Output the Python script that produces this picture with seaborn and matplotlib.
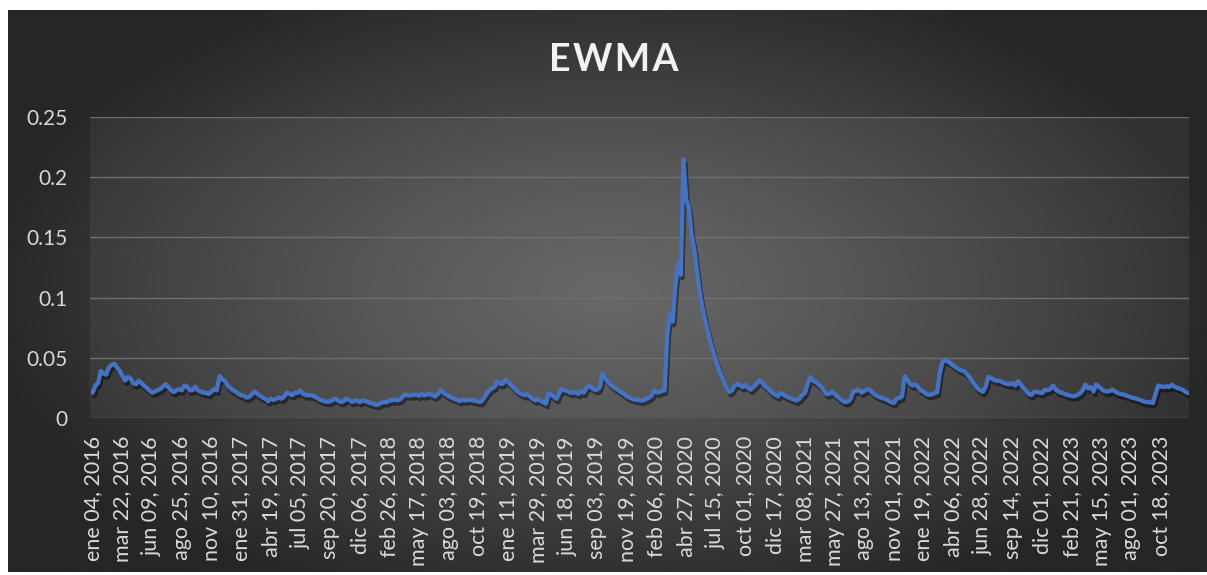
import numpy as np
import matplotlib
matplotlib.use("Agg")
import matplotlib.pyplot as plt
import matplotlib.patheffects as pe
import seaborn as sns

TITLE = "EWMA"

# Axis labels shown every 55 trading days
TICK_LABELS = [
    "ene 04, 2016", "mar 22, 2016", "jun 09, 2016", "ago 25, 2016", "nov 10, 2016",
    "ene 31, 2017", "abr 19, 2017", "jul 05, 2017", "sep 20, 2017", "dic 06, 2017",
    "feb 26, 2018", "may 17, 2018", "ago 03, 2018", "oct 19, 2018", "ene 11, 2019",
    "mar 29, 2019", "jun 18, 2019", "sep 03, 2019", "nov 19, 2019", "feb 06, 2020",
    "abr 27, 2020", "jul 15, 2020", "oct 01, 2020", "dic 17, 2020", "mar 08, 2021",
    "may 27, 2021", "ago 13, 2021", "nov 01, 2021", "ene 19, 2022", "abr 06, 2022",
    "jun 28, 2022", "sep 14, 2022", "dic 01, 2022", "feb 21, 2023", "may 15, 2023",
    "ago 01, 2023", "oct 18, 2023",
]

# EWMA volatility, one reading every 5 trading days (11 readings per labelled span)
EWMA = [
    0.021, 0.027, 0.029, 0.039, 0.037, 0.036, 0.042, 0.044, 0.045, 0.042, 0.039,
    0.035, 0.031, 0.034, 0.033, 0.029, 0.028, 0.031, 0.029, 0.027, 0.025, 0.023,
    0.021, 0.022, 0.023, 0.024, 0.026, 0.028, 0.026, 0.023, 0.0215, 0.023, 0.024,
    0.023, 0.027, 0.026, 0.023, 0.023, 0.026, 0.023, 0.022, 0.021, 0.021, 0.020,
    0.022, 0.024, 0.023, 0.035, 0.032, 0.031, 0.027, 0.025, 0.023, 0.022, 0.020,
    0.019, 0.0185, 0.017, 0.0175, 0.0195, 0.022, 0.020, 0.0185, 0.017, 0.016, 0.014,
    0.016, 0.015, 0.016, 0.017, 0.016, 0.018, 0.021, 0.020, 0.019, 0.021, 0.021,
    0.023, 0.020, 0.019, 0.019, 0.019, 0.018, 0.017, 0.0155, 0.0146, 0.0138, 0.0135,
    0.0138, 0.0152, 0.016, 0.0146, 0.0132, 0.014, 0.016, 0.0152, 0.0135, 0.014, 0.0146,
    0.0132, 0.0146, 0.014, 0.0132, 0.0124, 0.0119, 0.0108, 0.0113, 0.0127, 0.0132, 0.0132,
    0.0146, 0.0146, 0.0152, 0.0146, 0.0155, 0.018, 0.0196, 0.0188, 0.0188, 0.0193, 0.0196,
    0.0185, 0.020, 0.0188, 0.0196, 0.020, 0.0188, 0.018, 0.020, 0.0235, 0.021, 0.0196,
    0.018, 0.017, 0.016, 0.0152, 0.014, 0.0152, 0.0146, 0.0149, 0.0152, 0.0146, 0.0143,
    0.0135, 0.0135, 0.0166, 0.020, 0.023, 0.0246, 0.026, 0.0306, 0.0284, 0.0284, 0.0317,
    0.030, 0.0276, 0.0254, 0.023, 0.0212, 0.020, 0.019, 0.0196, 0.018, 0.016, 0.0146,
    0.0155, 0.0143, 0.0132, 0.0119, 0.0207, 0.019, 0.0174, 0.016, 0.021, 0.0243, 0.023,
    0.0224, 0.021, 0.0213, 0.0213, 0.020, 0.0224, 0.021, 0.025, 0.0268, 0.025, 0.0235,
    0.0235, 0.0257, 0.0373, 0.033, 0.030, 0.0276, 0.0257, 0.0243, 0.023, 0.0212, 0.020,
    0.018, 0.017, 0.016, 0.0152, 0.0152, 0.0146, 0.0146, 0.0157, 0.0166, 0.018, 0.023,
    0.0212, 0.0215, 0.0224, 0.023, 0.070, 0.086, 0.080, 0.110, 0.128, 0.119, 0.215,
    0.182, 0.174, 0.152, 0.140, 0.122, 0.105, 0.092, 0.081, 0.072, 0.063, 0.055,
    0.048, 0.041, 0.035, 0.030, 0.025, 0.0215, 0.023, 0.027, 0.0284, 0.027, 0.0257,
    0.0276, 0.025, 0.0235, 0.026, 0.0279, 0.031, 0.030, 0.027, 0.025, 0.023, 0.0207,
    0.0193, 0.018, 0.0207, 0.0196, 0.018, 0.017, 0.016, 0.0152, 0.0146, 0.016, 0.019,
    0.0207, 0.0284, 0.034, 0.031, 0.030, 0.028, 0.026, 0.023, 0.020, 0.020, 0.0218,
    0.020, 0.018, 0.016, 0.0143, 0.0132, 0.0138, 0.016, 0.0224, 0.0226, 0.0235, 0.0212,
    0.0224, 0.024, 0.0235, 0.0212, 0.0193, 0.018, 0.017, 0.0163, 0.0155, 0.0143, 0.0132,
    0.0124, 0.016, 0.0166, 0.018, 0.0345, 0.0317, 0.0284, 0.027, 0.0279, 0.0257, 0.023,
    0.0218, 0.020, 0.0193, 0.0196, 0.0207, 0.0212, 0.0373, 0.0464, 0.0483, 0.047, 0.0455,
    0.0436, 0.0422, 0.0406, 0.0395, 0.039, 0.0367, 0.034, 0.0306, 0.0276, 0.0246, 0.023,
    0.0218, 0.026, 0.034, 0.0334, 0.0317, 0.031, 0.031, 0.030, 0.029, 0.0284, 0.0279,
    0.029, 0.027, 0.0306, 0.0279, 0.025, 0.0224, 0.020, 0.019, 0.0218, 0.0218, 0.021,
    0.0207, 0.0235, 0.023, 0.024, 0.027, 0.0237, 0.022, 0.021, 0.0204, 0.0193, 0.0188,
    0.0182, 0.0182, 0.019, 0.0204, 0.023, 0.0279, 0.0246, 0.0257, 0.022, 0.0279, 0.026,
    0.024, 0.0224, 0.022, 0.0224, 0.0235, 0.022, 0.0207, 0.020, 0.0196, 0.0188, 0.018,
    0.017, 0.0166, 0.016, 0.0152, 0.0143, 0.0135, 0.0132, 0.013, 0.0124, 0.0196, 0.027,
    0.0262, 0.0257, 0.0262, 0.0257, 0.0276, 0.0262, 0.025, 0.0243, 0.0235, 0.0218, 0.0207,
]

Y_TICKS = [0, 0.05, 0.1, 0.15, 0.2, 0.25]

DAYS_PER_READING = 5
DAYS_PER_LABEL = 55

sns.set_style("dark")
plt.rcParams["font.family"] = ["Lato", "DejaVu Sans"]

W, H = 1207, 575
fig = plt.figure(figsize=(W / 100, H / 100), dpi=100, facecolor="white")

# Dark chart area with a soft radial gradient
bg = fig.add_axes([8 / W, 3 / H, 1199 / W, 562 / H])
bg.set_axis_off()
gx, gy = np.meshgrid(np.linspace(-1, 1, 600), np.linspace(-1, 1, 300))
r = np.clip(np.sqrt((gx / 1.05) ** 2 + (gy / 1.2) ** 2), 0, 1)
inner, outer = 0x60 / 255, 0x26 / 255
shade = inner + (outer - inner) * r ** 1.2
bg.imshow(np.dstack([shade, shade, shade]), aspect="auto", extent=[0, 1, 0, 1],
          interpolation="bilinear")
bg.set_xlim(0, 1)
bg.set_ylim(0, 1)

# Plot area
ax = fig.add_axes([90 / W, (H - 418) / H, 1099 / W, 301 / H])
ax.set_facecolor((1, 1, 1, 0.05))

x = np.arange(len(EWMA)) * DAYS_PER_READING
sns.lineplot(x=x, y=EWMA, ax=ax, color="#4472C4", linewidth=3.1)
line = ax.get_lines()[0]
line.set_solid_joinstyle("round")
line.set_path_effects([
    pe.SimpleLineShadow(offset=(1.2, -2.4), shadow_color="black", alpha=0.45),
    pe.Normal(),
])

ax.set_ylim(0, 0.25)
ax.set_xlim(-5, x[-1] + 2)
ax.set_yticks(Y_TICKS)
ax.set_yticklabels([f"{v:g}" for v in Y_TICKS])
ax.set_xticks(np.arange(len(TICK_LABELS)) * DAYS_PER_LABEL)
ax.set_xticklabels(TICK_LABELS, rotation=90)
ax.grid(axis="y", color="#6e6e6e", linewidth=1.0)
ax.grid(axis="x", visible=False)
ax.set_axisbelow(True)
for s in ax.spines.values():
    s.set_visible(False)
ax.tick_params(axis="y", length=0, pad=16, labelsize=15, labelcolor="#d9d9d9")
ax.tick_params(axis="x", length=0, pad=13, labelsize=15.5, labelcolor="#d9d9d9")
ax.set_xlabel("")
ax.set_ylabel("")

fig.text(614 / W, 1 - 60 / H, "\u200a".join(TITLE), ha="center", va="center",
         fontsize=27, fontweight="bold", color="#f2f2f2")

fig.savefig("out.png", dpi=100, facecolor="white")
